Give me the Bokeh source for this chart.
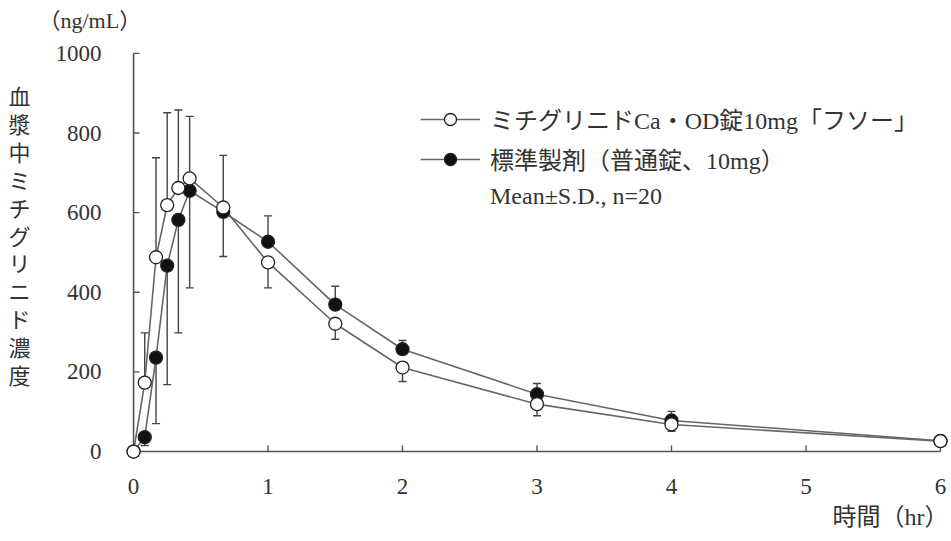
import math
from bokeh.plotting import figure
from bokeh.models import Range1d, Legend, LegendItem, Title, FixedTicker
from bokeh.embed import file_html
from bokeh.resources import INLINE

# ---- data ----
time_hr = [0, 0.083, 0.167, 0.25, 0.333, 0.417, 0.667, 1, 1.5, 2, 3, 4, 6]
test_mean = [0, 173, 488, 619, 662, 686, 613, 475, 321, 211, 119, 68, 26]
test_sd = [0, 125, 250, 232, 196, 156, 131, 64, 39, 35, 29, 17, 8]
ref_mean = [0, 36, 236, 467, 582, 655, 602, 527, 369, 257, 144, 78, 27]
ref_sd = [0, 21, 166, 299, 284, 244, 112, 65, 46, 22, 27, 23, 8]

x_ticks = [0, 1, 2, 3, 4, 5, 6]
y_ticks = [0, 200, 400, 600, 800, 1000]

test_label = "ミチグリニドCa・OD錠10mg「フソー」"
ref_label = "標準製剤（普通錠、10mg）"
note_label = "Mean±S.D., n=20"
y_title = "血漿中ミチグリニド濃度"
y_unit = "（ng/mL）"
x_title = "時間（hr）"

FONT = "Liberation Serif, Noto Sans CJK JP"
TXT = "#333333"
AX = "#555555"
LINE = "#666666"
MK = "#222222"

# one-sided SD bars pointing away from the other series
test_tip, ref_tip = [], []
for tm, ts, rm, rs in zip(test_mean, test_sd, ref_mean, ref_sd):
    up = tm >= rm
    test_tip.append(tm + ts if up else tm - ts)
    ref_tip.append(rm - rs if up else rm + rs)

p = figure(width=951, height=541,
           x_range=Range1d(-0.06, 6.06), y_range=Range1d(-20, 1040),
           output_backend="svg", toolbar_location=None,
           min_border_left=125, min_border_right=3,
           min_border_top=35, min_border_bottom=82)
p.outline_line_color = None
p.background_fill_color = "white"
p.border_fill_color = "white"
p.xgrid.grid_line_color = None
p.ygrid.grid_line_color = None

# axis lines and inward ticks through zero
p.segment(x0=[x_ticks[0]], y0=[y_ticks[0]], x1=[x_ticks[-1]], y1=[y_ticks[0]],
          line_color=AX, line_width=1.6)
p.segment(x0=[x_ticks[0]], y0=[y_ticks[0]], x1=[x_ticks[0]], y1=[y_ticks[-1]],
          line_color=AX, line_width=1.6)
p.ray(x=x_ticks[1:], y=[y_ticks[0]] * (len(x_ticks) - 1), length=6, length_units="screen",
      angle=math.pi / 2, line_color=AX, line_width=1.4)
p.ray(x=[x_ticks[0]] * (len(y_ticks) - 1), y=y_ticks[1:], length=6, length_units="screen",
      angle=0, line_color=AX, line_width=1.4)

# error bars
for mean, tip in ((test_mean, test_tip), (ref_mean, ref_tip)):
    p.segment(x0=time_hr, y0=mean, x1=time_hr, y1=tip, line_color="#444444", line_width=1.4)
    p.scatter(x=time_hr, y=tip, marker="dash", size=8, line_color="#444444", line_width=1.4)

# lines and markers
ref_line = p.line(time_hr, ref_mean, line_color=LINE, line_width=1.6)
test_line = p.line(time_hr, test_mean, line_color=LINE, line_width=1.6)
ref_pts = p.scatter(time_hr, ref_mean, marker="circle", size=13,
                    fill_color="#111111", line_color=MK, line_width=1.3)
test_pts = p.scatter(time_hr, test_mean, marker="circle", size=13,
                     fill_color="white", line_color=MK, line_width=1.3)
blank = p.scatter(x=[], y=[], size=0, fill_alpha=0, line_alpha=0)

# axes: labels only (lines drawn above)
for ax, ticks in ((p.xaxis, x_ticks), (p.yaxis, y_ticks)):
    ax.ticker = FixedTicker(ticks=ticks)
    ax.axis_line_color = None
    ax.major_tick_line_color = None
    ax.minor_tick_line_color = None
    ax.major_tick_in = 0
    ax.major_tick_out = 0
    ax.major_label_text_font = "Liberation Serif"
    ax.major_label_text_font_size = "23px"
    ax.major_label_text_color = TXT
p.xaxis.major_label_standoff = 19
p.yaxis.major_label_standoff = 24

# vertical y title (upright characters stacked), as the y axis label
p.yaxis.axis_label = "\n".join(y_title) + "\n\u3000"
p.yaxis.axis_label_orientation = "horizontal"
p.yaxis.axis_label_text_font = "Noto Sans CJK JP"
p.yaxis.axis_label_text_font_size = "22px"
p.yaxis.axis_label_text_font_style = "normal"
p.yaxis.axis_label_text_color = TXT
p.yaxis.axis_label_text_line_height = 0.87
p.yaxis.axis_label_standoff = 22

# unit and x title
p.add_layout(Title(text=y_unit, align="left", offset=-87, text_font=FONT,
                   text_font_size="22px", text_font_style="normal",
                   text_color=TXT), "above")
p.add_layout(Title(text=x_title, align="right", offset=0, text_font=FONT,
                   text_font_size="24px", text_font_style="normal",
                   text_color=TXT), "below")

legend = Legend(items=[LegendItem(label=test_label, renderers=[test_line, test_pts]),
                       LegendItem(label=ref_label, renderers=[ref_line, ref_pts]),
                       LegendItem(label=note_label, renderers=[blank])],
                location=(295, 248), padding=0, margin=0, spacing=5,
                glyph_width=60, glyph_height=30, label_height=30, label_standoff=10,
                label_text_font=FONT, label_text_font_size="24px",
                label_text_color=TXT,
                background_fill_alpha=0, border_line_color=None)
p.add_layout(legend)

open("out.html", "w").write(file_html(p, INLINE))
